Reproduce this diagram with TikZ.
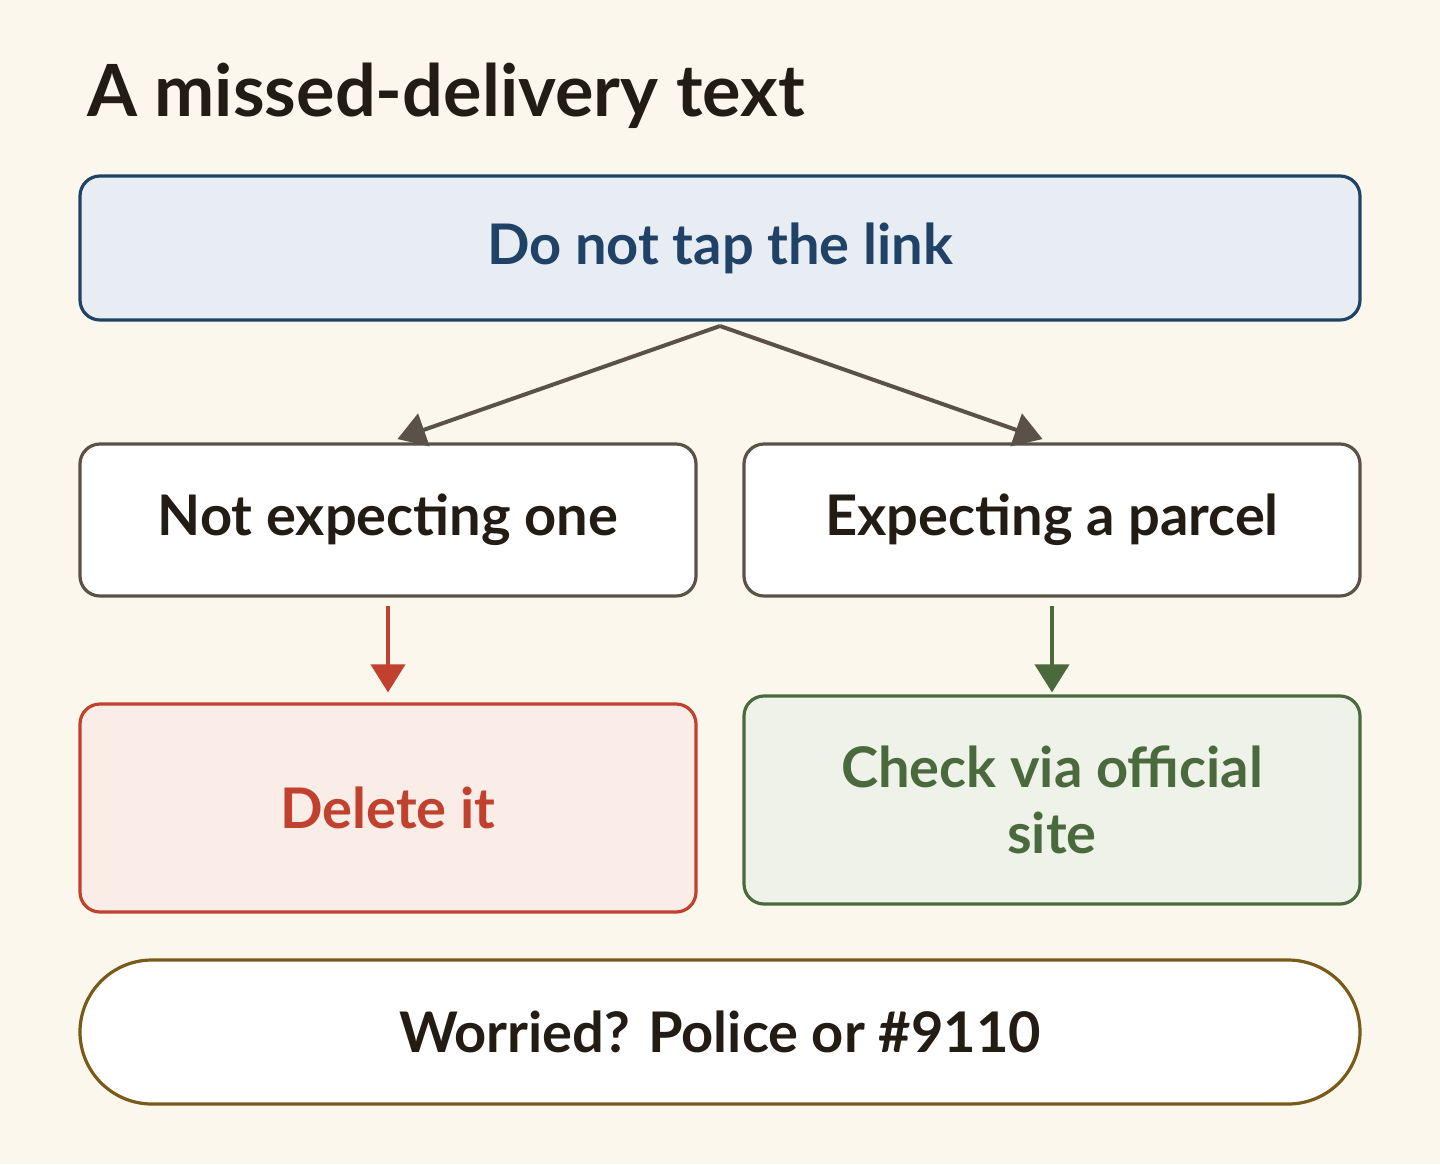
\documentclass[tikz,border=0pt]{standalone}
\usepackage{fontspec}
\setmainfont{Lato}
\usetikzlibrary{positioning,arrows.meta}
\definecolor{paper}{HTML}{FBF7EC}
\definecolor{ink}{HTML}{231C14}
\definecolor{navy}{HTML}{1F4266}
\definecolor{navyfill}{HTML}{E8EDF4}
\definecolor{stone}{HTML}{5A5248}
\definecolor{brick}{HTML}{C0412E}
\definecolor{brickfill}{HTML}{FAECE7}
\definecolor{moss}{HTML}{4A6A3E}
\definecolor{mossfill}{HTML}{EEF2E8}
\definecolor{ochre}{HTML}{7A5A18}
\tikzset{
  box/.style={draw, line width=1.6pt, rounded corners=10pt, align=center,
    font=\fontsize{28}{33}\selectfont\bfseries, inner sep=0pt},
  flow/.style={line width=2pt, -{Triangle[length=14pt,width=17pt]}}
}
\begin{document}
\begin{tikzpicture}[x=0.5pt,y=-0.5pt]
\fill[paper] (0,0) rectangle (1440,1164);
\useasboundingbox (0,0) rectangle (1440,1164);

\node[anchor=base west, text=ink, font=\fontsize{36}{40}\selectfont\bfseries] (title) at (80,116) {A missed-delivery text};

\node[box, draw=navy, fill=navyfill, text=navy, minimum width=640pt, minimum height=72pt] (link) at (720,248) {Do not tap the link};
\node[box, draw=stone, fill=white, text=ink, minimum width=308pt, minimum height=76pt] (notexp) at (388,520) {Not expecting one};
\node[box, draw=stone, fill=white, text=ink, minimum width=308pt, minimum height=76pt] (exp) at (1052,520) {Expecting a parcel};
\node[box, draw=brick, fill=brickfill, text=brick, minimum width=308pt, minimum height=104pt] (delete) at (388,808) {Delete it};
\node[box, draw=moss, fill=mossfill, text=moss, minimum width=308pt, minimum height=104pt] (check) at (1052,800) {Check via official\\site};
\node[box, draw=ochre, fill=white, text=ink, rounded corners=36pt, minimum width=640pt, minimum height=72pt] (worried) at (720,1032) {Worried? Police or \#9110};

\coordinate (fork) at (720,326);
\draw[flow, stone, shorten >=5pt] (fork) -- (notexp.north);
\draw[flow, stone, shorten >=5pt] (fork) -- (exp.north);
\draw[flow, brick, shorten <=4pt, shorten >=5pt] (notexp.south) -- (delete.north);
\draw[flow, moss, shorten <=4pt, shorten >=5pt] (exp.south) -- (check.north |- delete.north);
\end{tikzpicture}
\end{document}
